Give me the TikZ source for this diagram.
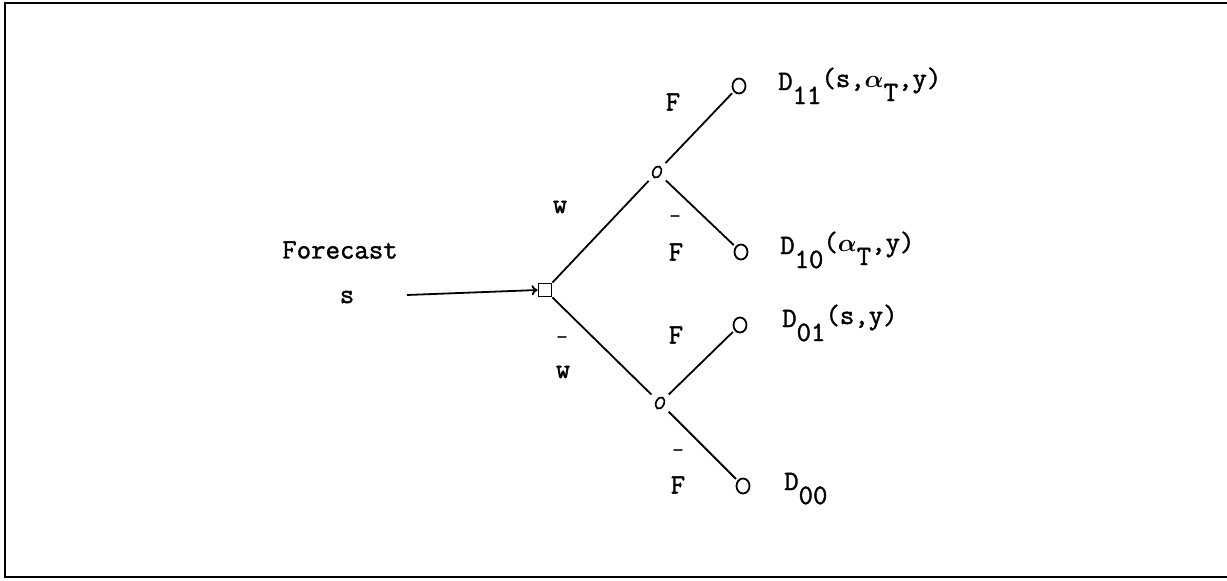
\documentclass[tikz,border=0pt]{standalone}
\usepackage{amsmath}
\usepackage{fontspec}
\newfontfamily\tw{Latin Modern Mono}[RawFeature={embolden=1.5}]
\usetikzlibrary{arrows.meta,shapes.geometric}
\newcommand{\dn}[1]{\raisebox{-14pt}{#1}}
\newcommand{\up}[1]{\raisebox{3pt}{#1}}
\newcommand{\al}{$\boldsymbol{\alpha}$}
\begin{document}
\begin{tikzpicture}[x=1pt,y=-1pt,
 lbl/.style={font=\fontsize{28}{32}\selectfont\tw, inner sep=0pt},
 bar/.style={font=\fontsize{22}{26}\selectfont\tw, inner sep=0pt},
 edge/.style={line width=1.8pt},
 frame/.style={line width=2.5pt},
 term/.style={ellipse, draw, line width=1.8pt, minimum width=13pt, minimum height=15pt, inner sep=0pt, outer sep=3pt},
 chance/.style={circle, inner sep=0pt, minimum size=24pt},
 omark/.style={line width=1.7pt},
 dec/.style={rectangle, draw, line width=1.8pt, minimum size=13pt, inner sep=0pt}]
\useasboundingbox (0,0) rectangle (1227,581);
\draw[frame] (1227,3) -- (5,3) -- (5,577) -- (1227,577);
% nodes
\node[dec] (sq) at (545,290) {};
\node[chance] (c1) at (657,172) {};
\node[chance] (c2) at (660,403) {};
\draw[omark, rotate around={-25:(c1.center)}] (c1.center) ellipse [x radius=4pt, y radius=6pt];
\draw[omark, rotate around={-25:(c2.center)}] (c2.center) ellipse [x radius=4pt, y radius=6pt];
\node[term] (t11) at (739,86) {};
\node[term] (t10) at (741,252) {};
\node[term] (t01) at (740,325) {};
\node[term] (t00) at (743,486) {};
\coordinate (src) at (407,295);
% labels
\node[lbl] (fc) at (340,250) {Forecast};
\node[lbl] (s) at (347,297) {s};
\node[lbl] (w1) at (560,207) {w};
\node[lbl] (w2) at (563,372) {w};
\node[bar] (w2b) at (562,340) {-};
\node[lbl] (f1) at (673,102) {F};
\node[lbl] (f2) at (676,252) {F};
\node[bar] (f2b) at (675,219) {-};
\node[lbl] (f3) at (676,335) {F};
\node[lbl] (f4) at (678,485) {F};
\node[bar] (f4b) at (678,453) {-};
\node[lbl, anchor=base west] (d11) at (778,90) {D\dn{11}\up{(s,\al\dn{T},y)}};
\node[lbl, anchor=base west] (d10) at (780,254) {D\dn{10}\up{(\al\dn{T},y)}};
\node[lbl, anchor=base west] (d01) at (782,327) {D\dn{01}\up{(s,y)}};
\node[lbl, anchor=base west] (d00) at (784,490) {D\dn{00}};
% connectors
\draw[edge, -{To[length=6pt,width=10pt]}] (src) -- (sq.west);
\draw[edge] (sq.north east) -- (c1);
\draw[edge] (sq.south east) -- (c2);
\draw[edge] (c1) -- (t11);
\draw[edge] (c1) -- (t10);
\draw[edge] (c2) -- (t01);
\draw[edge] (c2) -- (t00);
\end{tikzpicture}
\end{document}
